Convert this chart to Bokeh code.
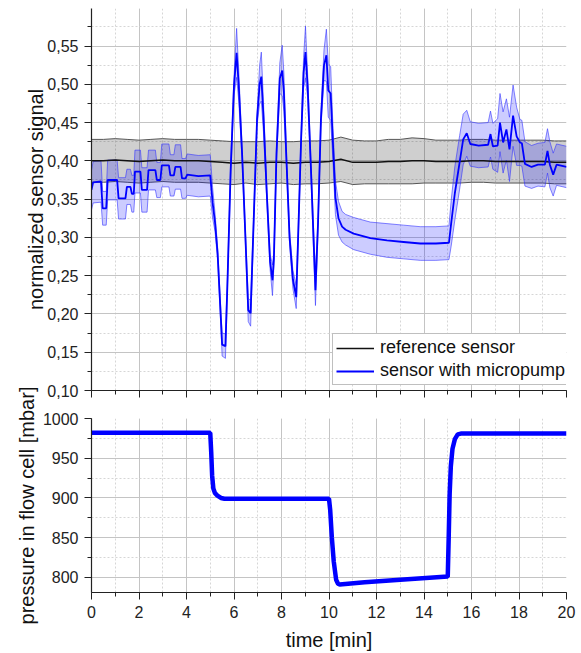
import numpy as np
from bokeh.plotting import figure
from bokeh.layouts import column
from bokeh.models import (Range1d, SingleIntervalTicker, CustomJSTickFormatter,
                          Legend, LegendItem, CustomLabelingPolicy)
from bokeh.embed import file_html
from bokeh.resources import INLINE

# ---------------- data ----------------
# reference sensor: mean and standard deviation (normalized signal)
ref_t = [0.0, 0.5, 1.0, 1.5, 2.0, 2.5, 3.0, 3.5, 4.0, 4.5,
         5.0, 5.5, 6.0, 6.5, 7.0, 7.5, 8.0, 8.5, 9.0, 9.5,
         10.0, 10.5, 11.0, 11.5, 12.0, 12.5, 13.0, 13.5, 14.0, 14.5,
         15.0, 15.5, 16.0, 16.5, 17.0, 17.5, 18.0, 18.5, 19.0, 19.5, 20.0]
ref_mean = [0.400, 0.400, 0.401, 0.400, 0.399, 0.400, 0.401, 0.400, 0.400, 0.400,
            0.399, 0.398, 0.397, 0.398, 0.397, 0.398, 0.398, 0.397, 0.398, 0.398,
            0.399, 0.402, 0.398, 0.398, 0.398, 0.399, 0.399, 0.400, 0.400, 0.399,
            0.399, 0.399, 0.400, 0.400, 0.399, 0.399, 0.399, 0.399, 0.399, 0.398, 0.398]
ref_sd = [0.028, 0.028, 0.028, 0.028, 0.028, 0.028, 0.028, 0.028, 0.028, 0.028,
          0.028, 0.028, 0.028, 0.027, 0.028, 0.028, 0.027, 0.028, 0.028, 0.028,
          0.028, 0.029, 0.029, 0.028, 0.028, 0.029, 0.029, 0.030, 0.029, 0.028,
          0.028, 0.028, 0.028, 0.028, 0.028, 0.028, 0.028, 0.028, 0.028, 0.028, 0.028]

# sensor with micropump: mean and standard deviation
mp_t = [0.00, 0.07, 0.40, 0.47, 0.62, 0.68, 1.08, 1.14, 1.43, 1.49,
        1.64, 1.70, 1.78, 1.83, 2.06, 2.12, 2.34, 2.40, 2.69, 2.75,
        2.90, 2.96, 3.26, 3.32, 3.47, 3.53, 3.75, 3.81, 3.96, 4.03,
        4.50, 5.00, 5.10, 5.20, 5.31, 5.45, 5.50, 5.64, 5.72, 5.86,
        6.00, 6.11, 6.20, 6.34, 6.48, 6.60, 6.70, 6.83, 6.97, 7.08,
        7.15, 7.24, 7.38, 7.52, 7.62, 7.68, 7.79, 7.93, 8.03, 8.10,
        8.21, 8.34, 8.48, 8.62, 8.70, 8.83, 8.93, 9.01, 9.10, 9.24,
        9.43, 9.54, 9.66, 9.79, 9.89, 9.97, 10.07, 10.17, 10.27, 10.40,
        10.55, 10.70, 11.04, 11.74, 12.44, 13.14, 13.84, 14.50, 15.05, 15.15,
        15.30, 15.50, 15.65, 15.80, 15.95, 16.30, 16.70, 16.80, 16.90, 17.10,
        17.20, 17.33, 17.47, 17.60, 17.75, 17.90, 18.04, 18.12, 18.25, 18.53,
        18.80, 19.09, 19.20, 19.30, 19.44, 19.58, 20.00]
mp_mean = [0.362, 0.372, 0.373, 0.338, 0.338, 0.375, 0.375, 0.351, 0.351, 0.366,
           0.366, 0.357, 0.357, 0.386, 0.386, 0.362, 0.362, 0.388, 0.388, 0.375,
           0.375, 0.394, 0.394, 0.381, 0.381, 0.392, 0.392, 0.377, 0.377, 0.382,
           0.380, 0.381, 0.345, 0.320, 0.279, 0.192, 0.160, 0.158, 0.236, 0.388,
           0.498, 0.541, 0.498, 0.410, 0.301, 0.205, 0.201, 0.323, 0.454, 0.500,
           0.510, 0.458, 0.358, 0.268, 0.244, 0.272, 0.410, 0.508, 0.518, 0.490,
           0.400, 0.300, 0.245, 0.222, 0.300, 0.432, 0.515, 0.542, 0.498, 0.390,
           0.231, 0.320, 0.454, 0.525, 0.538, 0.492, 0.488, 0.420, 0.352, 0.325,
           0.314, 0.310, 0.305, 0.299, 0.296, 0.294, 0.292, 0.292, 0.293, 0.320,
           0.358, 0.398, 0.428, 0.436, 0.422, 0.420, 0.421, 0.435, 0.419, 0.420,
           0.450, 0.424, 0.441, 0.415, 0.459, 0.432, 0.424, 0.423, 0.396, 0.392,
           0.395, 0.395, 0.413, 0.395, 0.382, 0.395, 0.392]
mp_sd = [0.026, 0.027, 0.027, 0.022, 0.022, 0.026, 0.026, 0.027, 0.027, 0.023,
         0.023, 0.024, 0.024, 0.028, 0.028, 0.029, 0.029, 0.026, 0.026, 0.023,
         0.023, 0.028, 0.028, 0.027, 0.027, 0.029, 0.029, 0.026, 0.026, 0.027,
         0.027, 0.027, 0.020, 0.012, 0.008, 0.010, 0.015, 0.016, 0.008, 0.008,
         0.012, 0.032, 0.020, 0.008, 0.008, 0.015, 0.017, 0.008, 0.008, 0.025,
         0.032, 0.020, 0.008, 0.010, 0.020, 0.010, 0.008, 0.020, 0.033, 0.025,
         0.008, 0.008, 0.012, 0.015, 0.008, 0.008, 0.020, 0.034, 0.015, 0.008,
         0.020, 0.008, 0.010, 0.020, 0.034, 0.035, 0.035, 0.022, 0.022, 0.022,
         0.020, 0.020, 0.021, 0.021, 0.022, 0.022, 0.022, 0.022, 0.022, 0.030,
         0.035, 0.035, 0.033, 0.030, 0.029, 0.029, 0.029, 0.030, 0.030, 0.035,
         0.038, 0.040, 0.040, 0.042, 0.040, 0.038, 0.030, 0.030, 0.029, 0.028,
         0.028, 0.029, 0.029, 0.030, 0.028, 0.027, 0.027]

# pressure in flow cell [mbar]
p_t = [0.0, 2.0, 4.0, 5.0, 5.04, 5.08, 5.13, 5.2, 5.3, 5.45, 5.6, 8.0, 10.0,
       10.05, 10.12, 10.2, 10.3, 10.38, 10.45, 11.5, 13.0, 15.0,
       15.04, 15.08, 15.13, 15.2, 15.3, 15.42, 15.55, 18.0, 20.0]
p_mbar = [982, 982, 982, 982, 958, 928, 912, 906, 903, 900, 899, 899, 899,
          885, 850, 820, 797, 792, 791, 794, 797, 801,
          850, 905, 940, 962, 974, 980, 981, 981, 981]

# ---------------- styling helpers ----------------
FONT = "Liberation Sans"
TICK_FS = "16px"
LABEL_FS = "20px"
GRID = "#c4c4c4"
MINOR_GRID = "#d6d6d6"


def style(p):
    p.outline_line_color = None
    p.xgrid.grid_line_color = GRID
    p.ygrid.grid_line_color = GRID
    p.xgrid.minor_grid_line_color = MINOR_GRID
    p.ygrid.minor_grid_line_color = MINOR_GRID
    p.xgrid.minor_grid_line_dash = "2 2"
    p.ygrid.minor_grid_line_dash = "2 2"
    for ax in p.axis:
        ax.axis_line_color = "#222222"
        ax.axis_line_width = 1.2
        ax.major_tick_line_color = "#222222"
        ax.minor_tick_line_color = "#222222"
        ax.major_tick_out = 7
        ax.major_tick_in = 0
        ax.minor_tick_out = 4
        ax.minor_tick_in = 0
        ax.major_label_text_font = FONT
        ax.major_label_text_font_size = TICK_FS
        ax.major_label_text_color = "#222222"
        ax.axis_label_text_font = FONT
        ax.axis_label_text_font_size = LABEL_FS
        ax.axis_label_text_font_style = "normal"
        ax.axis_label_text_color = "#111111"


x_range = Range1d(0, 20)

# ---------------- top panel ----------------
p1 = figure(width=581, height=410, x_range=x_range, y_range=Range1d(0.10, 0.599),
            output_backend="svg", toolbar_location=None,
            min_border_left=91, min_border_right=15, min_border_top=8, min_border_bottom=20)
p1.xaxis.ticker = SingleIntervalTicker(interval=2, num_minor_ticks=2)
p1.yaxis.ticker = SingleIntervalTicker(interval=0.05, num_minor_ticks=2)
p1.yaxis.formatter = CustomJSTickFormatter(code="return tick.toFixed(2).replace('.', ',');")
p1.yaxis.axis_label = "normalized sensor signal"
style(p1)
p1.yaxis.major_label_standoff = 6
p1.yaxis.axis_label_standoff = -3
# top panel's time axis shows ticks only (labels are on the lower panel)
p1.xaxis.major_label_text_font_size = "0px"
p1.xaxis.major_label_standoff = 0
p1.xaxis.major_label_policy = CustomLabelingPolicy(code="return new Set();")

rt = np.array(ref_t)
rm = np.array(ref_mean)
rs = np.array(ref_sd)
mt = np.array(mp_t)
mm = np.array(mp_mean)
ms = np.array(mp_sd)

p1.varea(x=rt, y1=rm - rs, y2=rm + rs, fill_color="#000000", fill_alpha=0.19)
p1.line(rt, rm + rs, line_color="#555555", line_width=1)
p1.line(rt, rm - rs, line_color="#555555", line_width=1)
p1.varea(x=mt, y1=mm - ms, y2=mm + ms, fill_color="#0000ff", fill_alpha=0.2)
p1.line(mt, mm + ms, line_color="#3333ff", line_alpha=0.6, line_width=1)
p1.line(mt, mm - ms, line_color="#3333ff", line_alpha=0.6, line_width=1)
r_ref = p1.line(rt, rm, line_color="#111111", line_width=1.5)
r_mp = p1.line(mt, mm, line_color="#0000ff", line_width=1.8)

legend = Legend(items=[LegendItem(label="reference sensor", renderers=[r_ref]),
                       LegendItem(label="sensor with micropump", renderers=[r_mp])],
                location=(241, 5), margin=0, padding=3, spacing=2,
                glyph_width=38, glyph_height=20, label_height=20, label_standoff=6,
                label_text_font=FONT, label_text_font_size="18px",
                label_text_color="#111111",
                border_line_color="#808080", border_line_width=1,
                background_fill_color="white", background_fill_alpha=1.0)
p1.add_layout(legend)

# ---------------- bottom panel ----------------
p2 = figure(width=581, height=267, x_range=x_range, y_range=Range1d(781, 1000),
            output_backend="svg", toolbar_location=None,
            min_border_left=91, min_border_right=15, min_border_top=32, min_border_bottom=61)
p2.margin = (-24, 0, 0, 0)
p2.background_fill_alpha = 0
p2.border_fill_alpha = 0
p2.xaxis.ticker = SingleIntervalTicker(interval=2, num_minor_ticks=2)
p2.yaxis.ticker = SingleIntervalTicker(interval=50, num_minor_ticks=2)
p2.yaxis.axis_label = "pressure in flow cell [mbar]"
p2.xaxis.axis_label = "time [min]"
style(p2)
p2.yaxis.major_label_standoff = 6
p2.yaxis.axis_label_standoff = 2
p2.xaxis.major_label_standoff = 6
p2.xaxis.axis_label_standoff = 8

p2.line(p_t, p_mbar, line_color="#0000ff", line_width=4.5)

layout = column(p1, p2)
open("out.html", "w").write(file_html(layout, INLINE))
